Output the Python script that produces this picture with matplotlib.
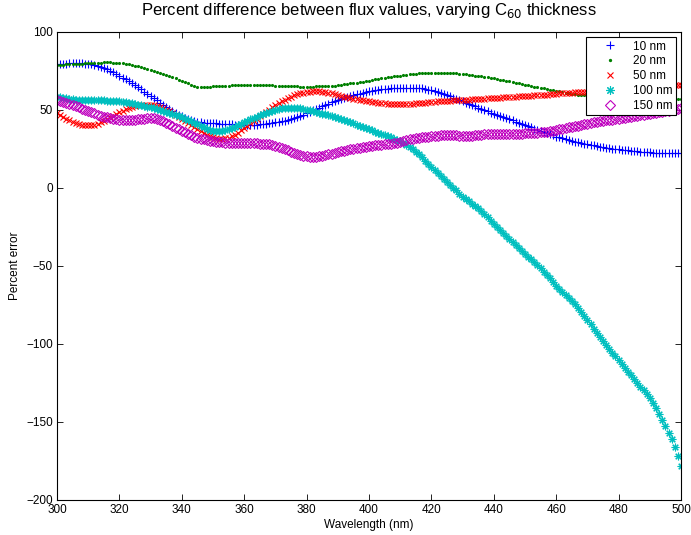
import numpy as np
import matplotlib
matplotlib.use("Agg")
import matplotlib.pyplot as plt

plt.rcParams['font.family'] = ['Liberation Sans', 'DejaVu Sans']

# wavelength grid, 1 nm steps
wavelength = np.arange(300, 501)

err_10nm = [
    79.3, 79.5, 79.6, 79.8, 79.9, 80.0, 80.0, 80.0, 79.9, 79.8,
    79.5, 79.2, 78.7, 78.2, 77.6, 77.0, 76.2, 75.3, 74.3, 73.2,
    72.0, 70.8, 69.6, 68.4, 67.2, 66.0, 64.6, 63.2, 61.8, 60.4,
    59.0, 57.6, 56.2, 54.8, 53.4, 52.0, 50.7, 49.4, 48.2, 47.1,
    46.0, 45.1, 44.3, 43.6, 43.0, 42.5, 42.2, 41.9, 41.7, 41.6,
    41.5, 41.4, 41.3, 41.2, 41.1, 41.0, 40.8, 40.6, 40.5, 40.4,
    40.3, 40.3, 40.4, 40.5, 40.6, 40.8, 41.0, 41.3, 41.5, 41.8,
    42.0, 42.3, 42.7, 43.1, 43.5, 44.0, 44.7, 45.5, 46.3, 47.1,
    48.0, 48.9, 49.8, 50.7, 51.6, 52.5, 53.3, 54.1, 54.9, 55.7,
    56.5, 57.1, 57.7, 58.3, 58.9, 59.5, 60.0, 60.5, 61.0, 61.5,
    62.0, 62.3, 62.6, 62.9, 63.2, 63.5, 63.7, 63.9, 64.1, 64.2,
    64.3, 64.4, 64.4, 64.4, 64.4, 64.3, 64.1, 63.8, 63.4, 63.0,
    62.5, 62.0, 61.4, 60.8, 60.2, 59.6, 58.8, 58.0, 57.2, 56.4,
    55.5, 54.7, 53.9, 53.1, 52.3, 51.5, 50.7, 49.9, 49.1, 48.3,
    47.5, 46.8, 46.1, 45.4, 44.7, 44.0, 43.3, 42.6, 41.9, 41.2,
    40.5, 39.7, 38.9, 38.1, 37.3, 36.5, 35.8, 35.1, 34.4, 33.7,
    33.0, 32.4, 31.9, 31.3, 30.8, 30.3, 29.8, 29.3, 28.9, 28.4,
    28.0, 27.6, 27.3, 26.9, 26.5, 26.2, 25.9, 25.6, 25.3, 25.0,
    24.8, 24.6, 24.3, 24.1, 23.8, 23.6, 23.4, 23.3, 23.1, 23.0,
    22.8, 22.7, 22.6, 22.5, 22.5, 22.4, 22.3, 22.3, 22.2, 22.2,
    22.2,
]

err_20nm = [
    78.8, 78.9, 79.0, 79.2, 79.3, 79.5, 79.6, 79.7, 79.8, 79.9,
    80.0, 80.1, 80.2, 80.3, 80.4, 80.5, 80.5, 80.5, 80.4, 80.3,
    80.1, 79.9, 79.6, 79.3, 78.8, 78.4, 77.9, 77.4, 76.8, 76.2,
    75.6, 75.0, 74.4, 73.8, 73.1, 72.4, 71.8, 71.1, 70.3, 69.5,
    68.7, 67.8, 67.0, 66.2, 65.4, 64.8, 64.5, 64.6, 64.8, 65.0,
    65.2, 65.3, 65.4, 65.5, 65.6, 65.7, 65.8, 65.9, 66.0, 66.0,
    66.0, 66.0, 66.0, 66.0, 65.9, 65.9, 65.9, 65.8, 65.8, 65.8,
    65.7, 65.6, 65.5, 65.4, 65.3, 65.2, 65.1, 65.1, 65.0, 65.0,
    65.0, 65.0, 65.0, 65.1, 65.1, 65.2, 65.3, 65.4, 65.5, 65.7,
    65.9, 66.1, 66.4, 66.7, 67.0, 67.3, 67.6, 67.9, 68.2, 68.6,
    68.9, 69.2, 69.6, 69.9, 70.3, 70.6, 70.9, 71.2, 71.5, 71.8,
    72.1, 72.3, 72.6, 72.8, 73.0, 73.2, 73.4, 73.6, 73.7, 73.8,
    73.9, 74.0, 74.0, 74.0, 74.0, 74.0, 73.9, 73.8, 73.6, 73.3,
    73.0, 72.8, 72.5, 72.3, 72.0, 71.8, 71.5, 71.2, 70.9, 70.6,
    70.3, 69.9, 69.5, 69.1, 68.7, 68.3, 67.9, 67.5, 67.1, 66.6,
    66.2, 65.8, 65.4, 65.0, 64.6, 64.2, 63.8, 63.4, 63.0, 62.6,
    62.2, 61.9, 61.5, 61.2, 60.8, 60.5, 60.2, 59.9, 59.6, 59.3,
    59.0, 58.8, 58.6, 58.5, 58.3, 58.1, 58.0, 57.9, 57.8, 57.6,
    57.5, 57.4, 57.4, 57.3, 57.3, 57.2, 57.2, 57.1, 57.1, 57.0,
    57.0, 57.0, 57.0, 57.0, 57.0, 57.0, 57.0, 57.0, 57.0, 57.0,
    57.0,
]

err_50nm = [
    47.9, 46.6, 45.4, 44.3, 43.3, 42.5, 41.7, 41.0, 40.5, 40.2,
    40.1, 40.2, 40.6, 41.2, 42.0, 43.0, 44.1, 45.2, 46.3, 47.4,
    48.5, 49.5, 50.4, 51.2, 51.9, 52.5, 52.9, 53.2, 53.3, 53.3,
    53.2, 52.9, 52.5, 51.9, 51.2, 50.3, 49.3, 48.1, 46.9, 45.6,
    44.3, 43.0, 41.7, 40.3, 39.0, 37.7, 36.5, 35.3, 34.2, 33.3,
    32.5, 31.9, 31.6, 31.6, 31.8, 32.3, 33.1, 34.2, 35.5, 36.9,
    38.4, 39.9, 41.4, 42.9, 44.4, 45.9, 47.4, 48.9, 50.3, 51.7,
    53.0, 54.3, 55.5, 56.6, 57.6, 58.5, 59.3, 60.0, 60.6, 61.1,
    61.5, 61.8, 62.0, 62.0, 62.0, 61.8, 61.5, 61.1, 60.6, 60.1,
    59.6, 59.1, 58.6, 58.1, 57.7, 57.3, 56.9, 56.5, 56.2, 55.8,
    55.5, 55.2, 54.9, 54.7, 54.5, 54.3, 54.1, 54.0, 53.9, 53.8,
    53.8, 53.8, 53.8, 53.9, 54.0, 54.2, 54.4, 54.6, 54.8, 55.0,
    55.2, 55.4, 55.6, 55.7, 55.8, 55.9, 56.0, 56.1, 56.2, 56.3,
    56.4, 56.5, 56.6, 56.8, 56.9, 57.0, 57.2, 57.3, 57.5, 57.7,
    57.8, 57.9, 58.0, 58.1, 58.2, 58.3, 58.4, 58.5, 58.7, 58.8,
    58.9, 59.0, 59.2, 59.3, 59.5, 59.6, 59.8, 59.9, 60.1, 60.3,
    60.4, 60.6, 60.7, 60.9, 61.0, 61.2, 61.3, 61.4, 61.6, 61.7,
    61.8, 61.9, 62.0, 62.1, 62.2, 62.3, 62.4, 62.6, 62.7, 62.9,
    63.0, 63.1, 63.3, 63.4, 63.6, 63.7, 63.9, 64.0, 64.2, 64.3,
    64.5, 64.6, 64.8, 65.0, 65.1, 65.3, 65.5, 65.6, 65.8, 65.9,
    66.0,
]

err_100nm = [
    58.5, 58.1, 57.7, 57.4, 57.1, 56.8, 56.7, 56.6, 56.5, 56.5,
    56.4, 56.4, 56.3, 56.3, 56.2, 56.1, 56.0, 55.9, 55.8, 55.6,
    55.5, 55.3, 55.0, 54.7, 54.3, 53.9, 53.4, 53.0, 52.6, 52.1,
    51.7, 51.2, 50.7, 50.1, 49.5, 48.9, 48.3, 47.6, 46.9, 46.1,
    45.3, 44.5, 43.7, 42.8, 41.9, 40.9, 39.9, 39.0, 38.1, 37.4,
    36.8, 36.5, 36.4, 36.6, 37.0, 37.6, 38.4, 39.3, 40.3, 41.3,
    42.3, 43.2, 44.1, 44.9, 45.7, 46.5, 47.3, 48.1, 48.8, 49.5,
    50.1, 50.6, 51.0, 51.3, 51.5, 51.6, 51.6, 51.4, 51.1, 50.7,
    50.2, 49.7, 49.2, 48.7, 48.2, 47.7, 47.2, 46.6, 46.0, 45.4,
    44.8, 44.2, 43.5, 42.8, 42.1, 41.4, 40.7, 40.0, 39.3, 38.5,
    37.7, 36.9, 36.1, 35.3, 34.6, 33.8, 33.1, 32.4, 31.6, 30.8,
    29.9, 28.9, 27.8, 26.5, 25.0, 23.3, 21.5, 19.6, 17.6, 15.6,
    13.6, 11.7, 9.8, 7.9, 6.0, 4.1, 2.2, 0.3, -1.6, -3.6,
    -5.6, -7.2, -8.6, -10.0, -11.4, -12.9, -14.7, -16.7, -18.8, -20.9,
    -23.0, -25.0, -27.0, -29.0, -31.0, -33.0, -34.9, -36.8, -38.6, -40.4,
    -42.2, -44.0, -45.8, -47.7, -49.6, -51.6, -53.6, -55.7, -58.0, -60.5,
    -63.0, -64.9, -66.7, -68.5, -70.4, -72.2, -74.6, -77.0, -79.5, -82.0,
    -84.6, -87.4, -90.2, -93.0, -95.5, -98.0, -100.5, -103.0, -105.5, -108.0,
    -110.5, -112.9, -115.3, -117.7, -120.1, -122.5, -124.9, -127.3, -129.7, -132.1,
    -134.8, -138.0, -141.3, -144.8, -148.5, -152.5, -156.8, -161.0, -166.0, -172.0,
    -178.0,
]

err_150nm = [
    56.4, 55.8, 55.2, 54.5, 53.9, 53.2, 52.5, 51.7, 50.9, 50.1,
    49.3, 48.5, 47.8, 47.0, 46.3, 45.7, 45.2, 44.7, 44.3, 44.0,
    43.8, 43.6, 43.5, 43.5, 43.6, 43.8, 44.0, 44.2, 44.4, 44.6,
    44.7, 44.6, 44.2, 43.6, 42.8, 41.9, 40.8, 39.6, 38.6, 37.6,
    36.6, 35.6, 34.6, 33.7, 32.9, 32.2, 31.6, 31.1, 30.7, 30.3,
    30.0, 29.7, 29.4, 29.2, 29.0, 28.9, 28.8, 28.7, 28.6, 28.6,
    28.6, 28.6, 28.6, 28.6, 28.6, 28.5, 28.4, 28.2, 27.9, 27.6,
    27.2, 26.6, 25.9, 25.0, 24.1, 23.2, 22.3, 21.6, 21.0, 20.5,
    20.2, 20.0, 20.0, 20.1, 20.3, 20.6, 21.0, 21.5, 22.0, 22.5,
    23.0, 23.5, 23.9, 24.3, 24.7, 25.1, 25.5, 25.9, 26.3, 26.6,
    26.9, 27.2, 27.4, 27.6, 27.8, 28.0, 28.2, 28.4, 28.7, 29.1,
    29.6, 30.1, 30.6, 31.1, 31.5, 31.9, 32.2, 32.5, 32.7, 32.9,
    33.1, 33.3, 33.5, 33.7, 33.9, 34.0, 34.0, 33.9, 33.7, 33.5,
    33.4, 33.4, 33.5, 33.6, 33.8, 34.0, 34.1, 34.3, 34.4, 34.5,
    34.6, 34.6, 34.7, 34.7, 34.7, 34.8, 34.8, 34.8, 34.9, 34.9,
    35.0, 35.0, 35.1, 35.2, 35.4, 35.6, 35.8, 36.1, 36.4, 36.8,
    37.2, 37.6, 38.0, 38.4, 38.8, 39.2, 39.6, 40.0, 40.4, 40.8,
    41.2, 41.6, 42.0, 42.4, 42.7, 43.0, 43.3, 43.6, 43.9, 44.2,
    44.5, 44.8, 45.1, 45.4, 45.7, 46.0, 46.3, 46.6, 46.9, 47.2,
    47.5, 47.8, 48.1, 48.4, 48.8, 49.1, 49.5, 49.8, 50.2, 50.6,
    51.0,
]

labels = ["10 nm", "20 nm", "50 nm", "100 nm", "150 nm"]

fig = plt.figure(figsize=(6.91, 5.35), dpi=100)
ax = fig.add_axes([57 / 691, 35 / 535, 624 / 691, 468 / 535])

ax.plot(wavelength, err_10nm, linestyle="none", marker="+", color=(0, 0, 1),
        ms=5.5, mew=0.8, label=labels[0])
ax.plot(wavelength, err_20nm, linestyle="none", marker=".", color=(0, 0.5, 0),
        ms=2.5, label=labels[1])
ax.plot(wavelength, err_50nm, linestyle="none", marker="x", color=(1, 0, 0),
        ms=4.5, mew=0.8, label=labels[2])
ax.plot(wavelength, err_100nm, linestyle="none", marker=(8, 2, 0), color=(0, 0.75, 0.75),
        ms=5.5, mew=0.8, label=labels[3])
ax.plot(wavelength, err_150nm, linestyle="none", marker="D", color=(0.75, 0, 0.75),
        mfc="none", ms=5, mew=0.8, label=labels[4])

ax.set_xlim(300, 500)
ax.set_ylim(-200, 100)
ax.set_xticks(np.arange(300, 501, 20))
ax.set_yticks(np.arange(-200, 101, 50))
ax.tick_params(direction="in", length=4, width=0.6, top=True, right=True,
               labelsize=8.5, pad=3)
for s in ax.spines.values():
    s.set_linewidth(0.8)

ax.set_xlabel("Wavelength (nm)", fontsize=8.5, labelpad=2)
ax.set_ylabel("Percent error", fontsize=8.5, labelpad=4)
ax.set_title("Percent difference between flux values, varying C$_{60}$ thickness",
             fontsize=12, pad=12)

leg = ax.legend(loc="upper right", bbox_to_anchor=(676 / 691, 1 - 37 / 535),
                bbox_transform=fig.transFigure, borderaxespad=0, fontsize=8.5,
                fancybox=False, edgecolor="black", framealpha=1,
                handlelength=3.5, handletextpad=0.15, labelspacing=0.24,
                borderpad=0.3, markerscale=1.1)
leg.get_frame().set_linewidth(0.8)

fig.savefig("out.png", dpi=100)
